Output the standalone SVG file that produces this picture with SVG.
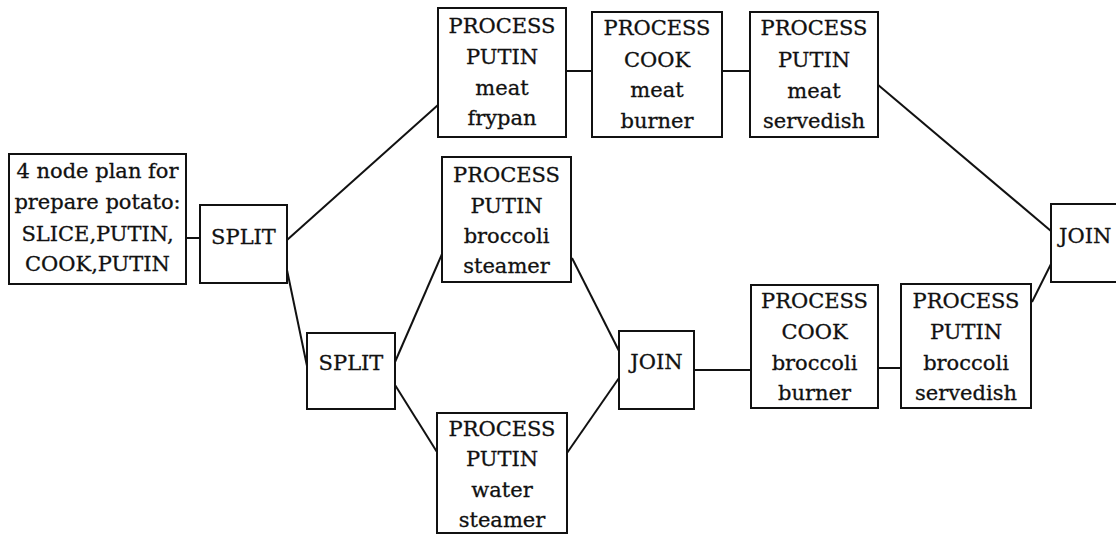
<svg xmlns="http://www.w3.org/2000/svg" width="1116" height="536" viewBox="0 0 1116 536">
<style>
rect{fill:#fff;stroke:#111;stroke-width:2}
text{font-family:"DejaVu Serif","Liberation Serif",serif;font-size:21px;fill:#111;text-anchor:middle;stroke:#111;stroke-width:0.3}
.c line{stroke:#111;stroke-width:2}
</style>
<rect x="0" y="0" width="1116" height="536" style="stroke:none"/>
<g class="c" id="connectors">
<line x1="186" y1="238" x2="200" y2="238"/>
<line x1="287" y1="240" x2="438" y2="105"/>
<line x1="287" y1="270" x2="307" y2="366"/>
<line x1="395" y1="362" x2="442" y2="254"/>
<line x1="395" y1="385" x2="437" y2="452"/>
<line x1="572" y1="258" x2="619" y2="351"/>
<line x1="567" y1="453" x2="619" y2="378"/>
<line x1="694" y1="370" x2="751" y2="370"/>
<line x1="878" y1="368" x2="901" y2="368"/>
<line x1="1032" y1="302" x2="1051" y2="264"/>
<line x1="566" y1="71" x2="592" y2="71"/>
<line x1="722" y1="71" x2="750" y2="71"/>
<line x1="877" y1="84" x2="1051" y2="231"/>
</g>
<g id="plan">
<rect x="9" y="154" width="177" height="130"/>
<text x="97.5" y="178">4 node plan for</text>
<text x="97.5" y="209">prepare potato:</text>
<text x="97.5" y="241">SLICE,PUTIN,</text>
<text x="97.5" y="271">COOK,PUTIN</text>
</g>
<g id="split1">
<rect x="200" y="205" width="87" height="78"/>
<text x="243.5" y="244">SPLIT</text>
</g>
<g id="split2">
<rect x="307" y="333" width="88" height="76"/>
<text x="351" y="370">SPLIT</text>
</g>
<g id="putin-meat-frypan">
<rect x="438" y="8" width="128" height="129"/>
<text x="502" y="33">PROCESS</text>
<text x="502" y="64">PUTIN</text>
<text x="502" y="95">meat</text>
<text x="502" y="125">frypan</text>
</g>
<g id="cook-meat-burner">
<rect x="592" y="12" width="130" height="125"/>
<text x="657" y="35">PROCESS</text>
<text x="657" y="67">COOK</text>
<text x="657" y="97">meat</text>
<text x="657" y="128">burner</text>
</g>
<g id="putin-meat-servedish">
<rect x="750" y="12" width="128" height="125"/>
<text x="814" y="35">PROCESS</text>
<text x="814" y="67">PUTIN</text>
<text x="814" y="98">meat</text>
<text x="814" y="128">servedish</text>
</g>
<g id="putin-broccoli-steamer">
<rect x="442" y="157" width="129" height="125"/>
<text x="506.5" y="182">PROCESS</text>
<text x="506.5" y="213">PUTIN</text>
<text x="506.5" y="243">broccoli</text>
<text x="506.5" y="273">steamer</text>
</g>
<g id="putin-water-steamer">
<rect x="437" y="413" width="130" height="120"/>
<text x="502" y="436">PROCESS</text>
<text x="502" y="466">PUTIN</text>
<text x="502" y="497">water</text>
<text x="502" y="527">steamer</text>
</g>
<g id="join1">
<rect x="619" y="331" width="75" height="78"/>
<text x="656.5" y="369">JOIN</text>
</g>
<g id="cook-broccoli-burner">
<rect x="751" y="285" width="127" height="123"/>
<text x="814.5" y="308">PROCESS</text>
<text x="814.5" y="339">COOK</text>
<text x="814.5" y="370">broccoli</text>
<text x="814.5" y="400">burner</text>
</g>
<g id="putin-broccoli-servedish">
<rect x="901" y="284" width="130" height="124"/>
<text x="966" y="308">PROCESS</text>
<text x="966" y="339">PUTIN</text>
<text x="966" y="370">broccoli</text>
<text x="966" y="400">servedish</text>
</g>
<g id="join2">
<rect x="1051" y="204" width="80" height="78"/>
<text x="1059" y="243" style="text-anchor:start">JOIN</text>
</g>
</svg>
